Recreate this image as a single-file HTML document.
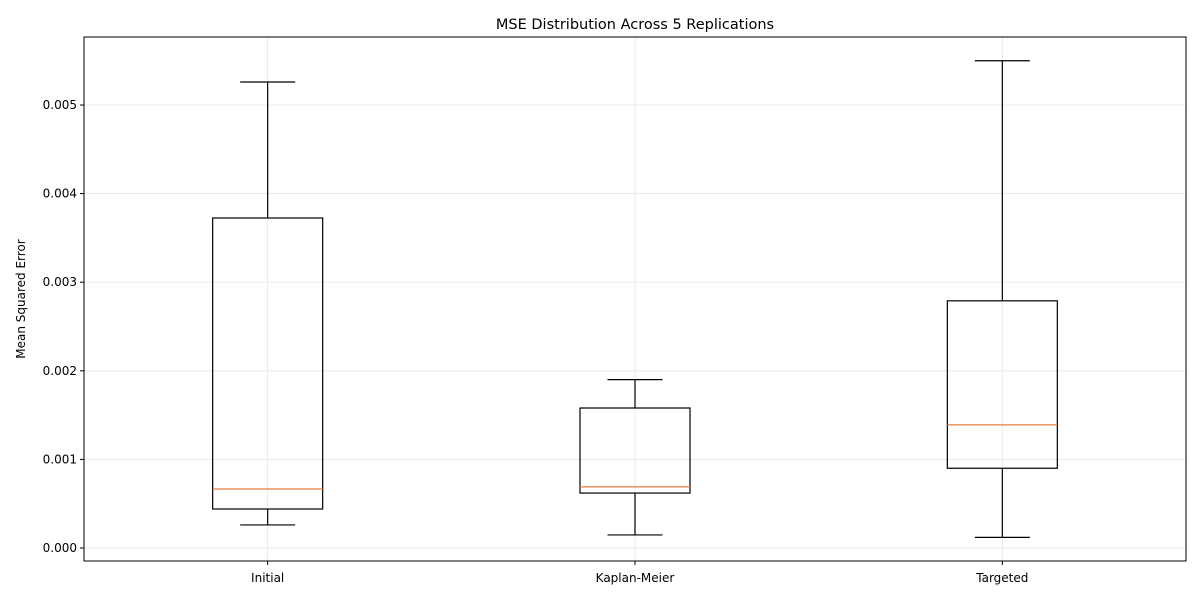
<!DOCTYPE html>
<html><head><meta charset="utf-8">
<style>
html,body{margin:0;padding:0;background:#fff;}
svg{display:block;font-family:"DejaVu Sans","Liberation Sans",sans-serif;}
</style></head>
<body>
<svg id="chart" width="1200" height="600"></svg>
<script>
const categories = ["Initial", "Kaplan-Meier", "Targeted"];
const whiskerLow = [0.00026, 0.000147, 0.00012];
const q1Values = [0.00044, 0.00062, 0.0009];
const medianValues = [0.000666, 0.00069, 0.00139];
const q3Values = [0.003725, 0.00158, 0.00279];
const whiskerHigh = [0.00526, 0.0019, 0.0055];
const yTicks = [0, 0.001, 0.002, 0.003, 0.004, 0.005];
const yTickLabels = ["0.000", "0.001", "0.002", "0.003", "0.004", "0.005"];

const L = 84, R = 1186, T = 37, B = 561;
const yMin = -0.000147, yMax = 0.005768;
const y = v => B - (v - yMin) / (yMax - yMin) * (B - T);
const xStart = 0.5, xEnd = 3.5;
const x = i => L + ((i + 1) - xStart) / (xEnd - xStart) * (R - L);
const NS = "http://www.w3.org/2000/svg";
const svg = document.getElementById("chart");
function mk(tag, attrs, parent) {
  const e = document.createElementNS(NS, tag);
  for (const k in attrs) e.setAttribute(k, attrs[k]);
  (parent || svg).appendChild(e);
  return e;
}
// grid
const grid = mk("g", {});


yTicks.forEach(v => mk("line", {x1: L, x2: R, y1: y(v), y2: y(v), stroke: "#e6e6e6", "stroke-width": 0.8}, grid));
categories.forEach((c, i) => mk("line", {x1: x(i), x2: x(i), y1: T, y2: B, stroke: "#e6e6e6", "stroke-width": 0.8}, grid));

// boxes
const bw = 110, cw = 55;
categories.forEach((c, i) => {
  const g = mk("g", {});
  
  
  const cx = x(i);
  mk("line", {x1: cx, x2: cx, y1: y(whiskerLow[i]), y2: y(q1Values[i]), stroke: "#000", "stroke-width": 1.2}, g);
  mk("line", {x1: cx, x2: cx, y1: y(q3Values[i]), y2: y(whiskerHigh[i]), stroke: "#000", "stroke-width": 1.2}, g);
  mk("line", {x1: cx - cw/2, x2: cx + cw/2, y1: y(whiskerLow[i]), y2: y(whiskerLow[i]), stroke: "#000", "stroke-width": 1.2}, g);
  mk("line", {x1: cx - cw/2, x2: cx + cw/2, y1: y(whiskerHigh[i]), y2: y(whiskerHigh[i]), stroke: "#000", "stroke-width": 1.2}, g);
  mk("rect", {x: cx - bw/2, y: y(q3Values[i]), width: bw, height: y(q1Values[i]) - y(q3Values[i]), fill: "none", stroke: "#000", "stroke-width": 1.2}, g);
  mk("line", {x1: cx - bw/2, x2: cx + bw/2, y1: y(medianValues[i]), y2: y(medianValues[i]), stroke: "#e08040", "stroke-width": 1.2}, g);
  const t = mk("text", {x: cx, y: B + 21, "text-anchor": "middle", "font-size": 12, fill: "#000"});
  t.textContent = c;
  
  
  mk("line", {x1: cx, x2: cx, y1: B, y2: B + 4, stroke: "#000"});
});

// y ticks
yTicks.forEach((v, i) => {
  mk("line", {x1: L - 4, x2: L, y1: y(v), y2: y(v), stroke: "#000"});
  const t = mk("text", {x: L - 7, y: y(v) + 4, "text-anchor": "end", "font-size": 12, fill: "#000"});
  t.textContent = yTickLabels[i];
  
  
});

// frame
const fr = mk("rect", {x: L, y: T, width: R - L, height: B - T, fill: "none", stroke: "#000", "stroke-width": 1});



const title = mk("text", {x: (L + R) / 2, y: 29, "text-anchor": "middle", "font-size": 14.5, fill: "#000"});
title.textContent = "MSE Distribution Across 5 Replications";



const yl = mk("text", {x: 25, y: (T + B) / 2, "text-anchor": "middle", "font-size": 12, fill: "#000", transform: "rotate(-90 25 " + (T + B) / 2 + ")"});
yl.textContent = "Mean Squared Error";


</script>
</body></html>
